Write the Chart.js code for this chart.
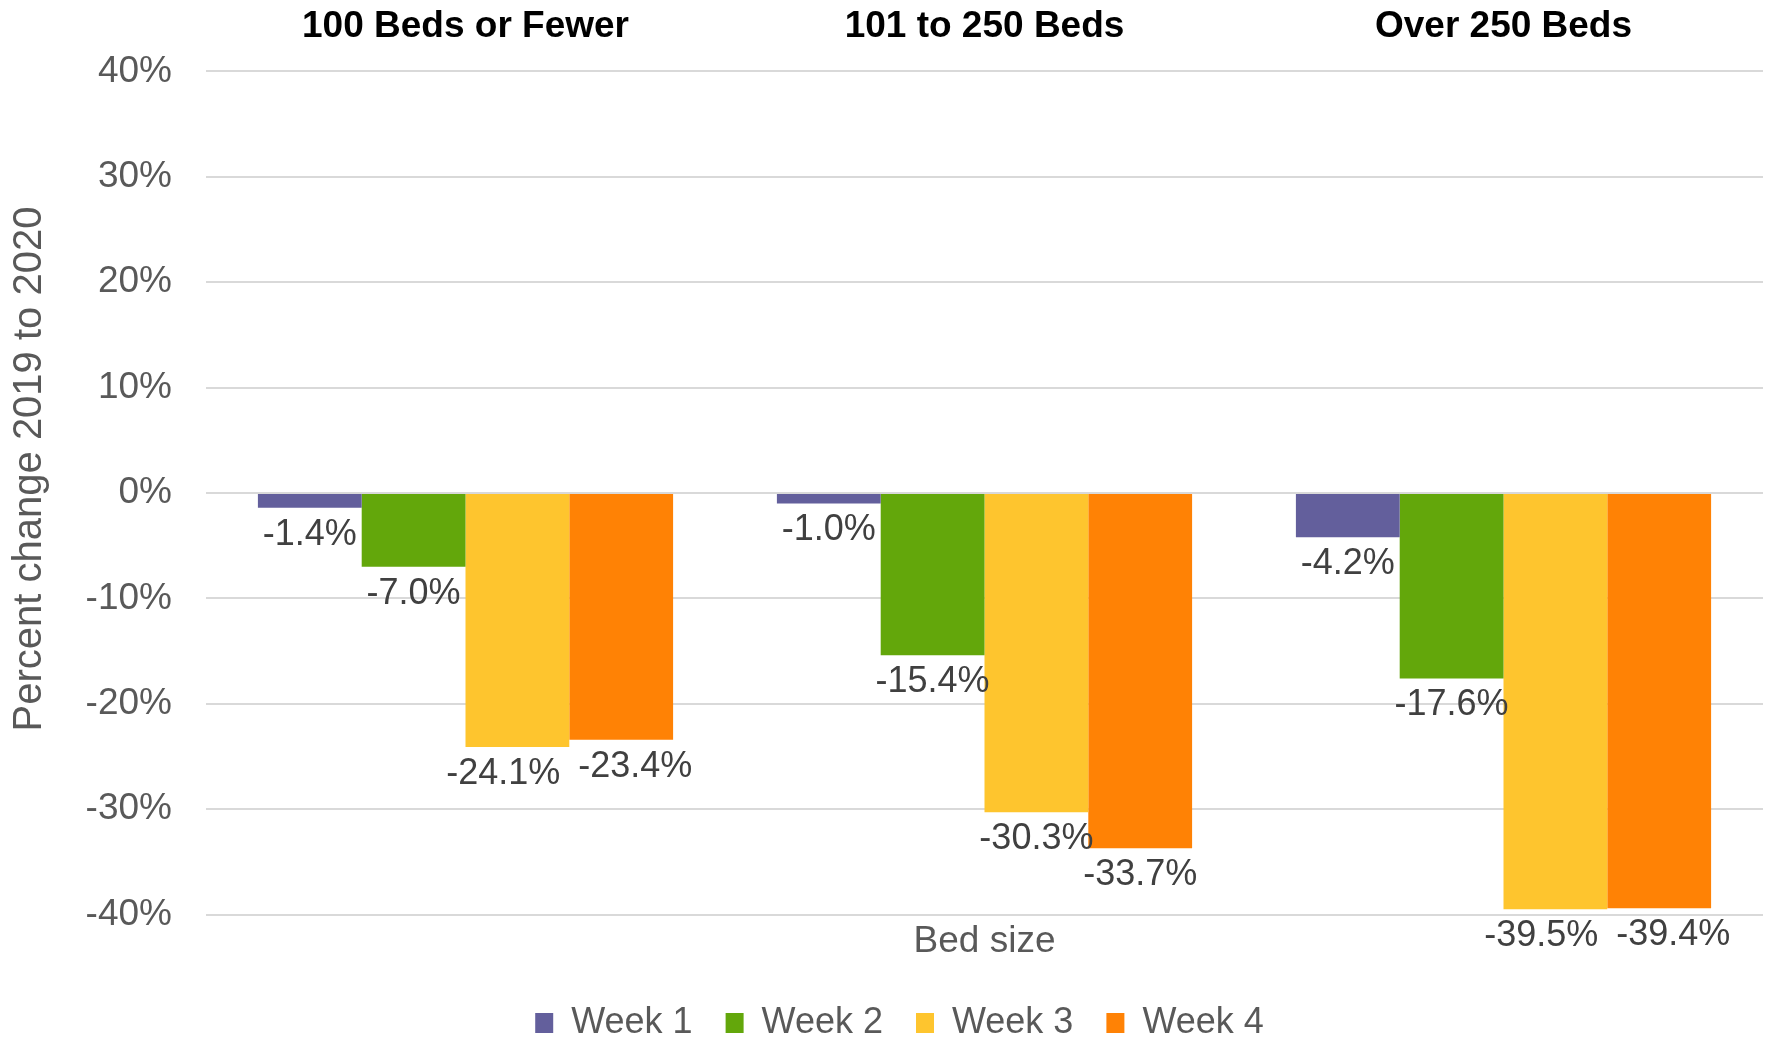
<!DOCTYPE html>
<html>
<head>
<meta charset="utf-8">
<title>Percent change 2019 to 2020 by bed size</title>
<script src="https://cdn.jsdelivr.net/npm/chart.js@4.4.1/dist/chart.umd.min.js"></script>
<style>
  html, body { margin: 0; padding: 0; background: #fff; }
  #wrap { width: 1766px; height: 1044px; }
</style>
</head>
<body>
<div id="wrap"><canvas id="barChart" width="1766" height="1044"></canvas></div>
<script>
const categories = ['100 Beds or Fewer', '101 to 250 Beds', 'Over 250 Beds'];
const seriesNames = ['Week 1', 'Week 2', 'Week 3', 'Week 4'];
const week1 = [-1.4, -1.0, -4.2];
const week2 = [-7.0, -15.4, -17.6];
const week3 = [-24.1, -30.3, -39.5];
const week4 = [-23.4, -33.7, -39.4];
const yTicks = [-40, -30, -20, -10, 0, 10, 20, 30, 40];
const colors = ['#635F9C', '#63A70B', '#FEC52E', '#FF8205'];

const FONT = "'Liberation Sans', Arial, sans-serif";
const GREY = '#595959';

// value labels under each bar end, nudged apart when neighbours collide
const valueLabels = {
    id: 'valueLabels',
    afterDatasetsDraw(chart) {
        const ctx = chart.ctx;
        ctx.save();
        ctx.font = '36px ' + FONT;
        ctx.fillStyle = '#404040';
        ctx.textAlign = 'center';
        ctx.textBaseline = 'middle';
        categories.forEach((c, i) => {
            const items = chart.data.datasets.map((ds, d) => {
                const bar = chart.getDatasetMeta(d).data[i];
                const text = ds.data[i].toFixed(1) + '%';
                return { text: text, x: bar.x, y: bar.y + 27, w: ctx.measureText(text).width };
            });
            for (let k = 1; k < items.length; k++) {
                const a = items[k - 1], b = items[k];
                if (Math.abs(a.y - b.y) < 30) {
                    const gap = (b.x - b.w / 2) - (a.x + a.w / 2);
                    if (gap < 18) {
                        const s = (18 - gap) / 2;
                        a.x -= s;
                        b.x += s;
                    }
                }
            }
            items.forEach(it => ctx.fillText(it.text, it.x, it.y));
        });
        ctx.restore();
    }
};

// rotated y axis title
const yTitle = {
    id: 'yTitle',
    afterDraw(chart) {
        const ctx = chart.ctx;
        ctx.save();
        ctx.translate(30, 469);
        ctx.rotate(-Math.PI / 2);
        ctx.font = '40px ' + FONT;
        ctx.fillStyle = GREY;
        ctx.textAlign = 'center';
        ctx.textBaseline = 'middle';
        ctx.fillText('Percent change 2019 to 2020', 0, 0);
        ctx.restore();
    }
};

const seriesData = [week1, week2, week3, week4];

new Chart(document.getElementById('barChart').getContext('2d'), {
    type: 'bar',
    data: {
        labels: categories,
        datasets: seriesNames.map((name, i) => ({
            label: name,
            data: seriesData[i],
            backgroundColor: colors[i],
            borderWidth: 0,
            categoryPercentage: 0.8,
            barPercentage: 1.0
        }))
    },
    options: {
        responsive: false,
        animation: false,
        devicePixelRatio: 1,
        layout: { padding: { left: 36, right: 3, top: 0, bottom: -7 } },
        scales: {
            x: {
                position: 'top',
                grid: { display: false, drawTicks: false },
                border: { display: false },
                ticks: {
                    color: '#000',
                    font: { family: FONT, size: 37, weight: 'bold' },
                    padding: 22,
                    maxRotation: 0,
                    autoSkip: false
                },
                afterFit(s) { s.height = 71.4; }
            },
            x2: {
                type: 'category',
                position: 'bottom',
                labels: categories,
                grid: { display: false, drawTicks: false },
                border: { display: false },
                ticks: { display: false },
                title: {
                    display: true,
                    text: 'Bed size',
                    color: GREY,
                    font: { family: FONT, size: 37 },
                    padding: { top: 0, bottom: 8 }
                },
                afterFit(s) { s.height = 57.4; }
            },
            y: {
                min: yTicks[0],
                max: yTicks[yTicks.length - 1],
                afterBuildTicks(s) { s.ticks = yTicks.map(v => ({ value: v })); },
                grid: { color: '#D9D9D9', lineWidth: 2, drawTicks: false },
                border: { display: false },
                ticks: {
                    color: GREY,
                    font: { family: FONT, size: 37 },
                    padding: 34,
                    callback: v => v + '%'
                },
                afterFit(s) { s.width = 170; }
            }
        },
        plugins: {
            legend: {
                position: 'bottom',
                labels: {
                    boxWidth: 18,
                    boxHeight: 20,
                    padding: 33,
                    color: GREY,
                    font: { family: FONT, size: 36 }
                }
            },
            tooltip: { enabled: false }
        }
    },
    plugins: [valueLabels, yTitle]
});
</script>
</body>
</html>
